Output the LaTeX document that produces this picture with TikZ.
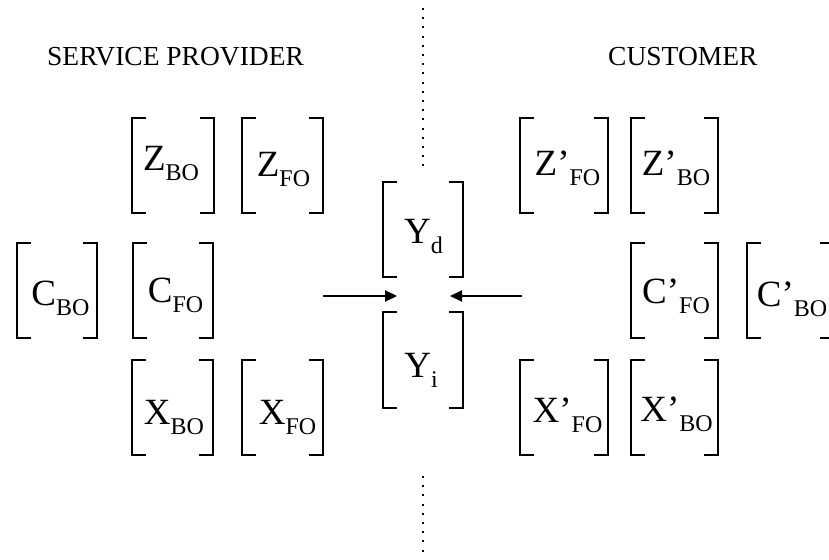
\documentclass[tikz,border=0pt]{standalone}
\usepackage{fontspec}
\setmainfont{Liberation Serif}
\usetikzlibrary{arrows.meta}
\newcommand\lab[2]{#1\raisebox{-10pt}{\fontsize{24}{24}\selectfont #2}}
\tikzset{
  frame/.style={inner sep=0pt, outer sep=0pt, draw=none},
  brk/.style={line width=2.2pt, line cap=butt, line join=miter},
  brkshadow/.style={line width=2.6pt, draw=black!25, opacity=.45, shift={(1.5,2.5)}},
  lbl/.style={anchor=base, inner sep=0pt, font=\fontsize{37}{37}\selectfont},
  ttl/.style={anchor=base west, inner sep=0pt, font=\fontsize{27.5}{27.5}\selectfont},
  arr/.style={line width=2pt, -{Triangle[length=12pt,width=11pt]}},
  arrshadow/.style={line width=2.4pt, draw=black!25, opacity=.45, shift={(1.5,2.5)}, -{Triangle[length=12pt,width=11pt]}},
}
\newcommand\brkpair[1]{%
  \draw[brkshadow] ([xshift=14pt]#1.north west) -| (#1.south west) -- ++(14,0);
  \draw[brkshadow] ([xshift=-14pt]#1.north east) -| (#1.south east) -- ++(-14,0);
  \draw[brk] ([xshift=14pt]#1.north west) -| (#1.south west) -- ++(14,0);
  \draw[brk] ([xshift=-14pt]#1.north east) -| (#1.south east) -- ++(-14,0);
}
\begin{document}
\begin{tikzpicture}[x=1pt,y=-1pt]
\useasboundingbox (0,0) rectangle (829,559);
% titles
\node[ttl] (sp) at (47,66) {SERVICE PROVIDER};
\node[ttl] (cu) at (608,66) {CUSTOMER};
% dotted divider
\foreach \k in {0,...,17} { \fill (422,{8+\k*9.2}) rectangle ++(2,2); }
\foreach \k in {0,...,8} { \fill (422,{476+\k*9.2}) rectangle ++(2,2); }
% bracket frames
\node[frame, minimum width=82pt, minimum height=95pt] (zbo) at (173,165.5) {};
\node[frame, minimum width=81pt, minimum height=95pt] (zfo) at (282.5,165.5) {};
\node[frame, minimum width=80pt, minimum height=95pt] (cbo) at (57,290.5) {};
\node[frame, minimum width=80pt, minimum height=95pt] (cfo) at (173,290.5) {};
\node[frame, minimum width=81pt, minimum height=95pt] (xbo) at (172.5,407.5) {};
\node[frame, minimum width=81pt, minimum height=95pt] (xfo) at (282.5,407.5) {};
\node[frame, minimum width=80pt, minimum height=95pt] (yd) at (423,229.5) {};
\node[frame, minimum width=80pt, minimum height=96pt] (yi) at (423,360) {};
\node[frame, minimum width=88pt, minimum height=95pt] (zpfo) at (564,165.5) {};
\node[frame, minimum width=87pt, minimum height=95pt] (zpbo) at (674.5,165.5) {};
\node[frame, minimum width=87pt, minimum height=95pt] (cpfo) at (674.5,290.5) {};
\node[frame, minimum width=87pt, minimum height=95pt] (cpbo) at (790.5,290.5) {};
\node[frame, minimum width=88pt, minimum height=95pt] (xpfo) at (564,407.5) {};
\node[frame, minimum width=87pt, minimum height=95pt] (xpbo) at (674.5,407.5) {};
\foreach \n in {zbo,zfo,cbo,cfo,xbo,xfo,yd,yi,zpfo,zpbo,cpfo,cpbo,xpfo,xpbo} { \brkpair{\n} }
% labels
\node[lbl] (l-zbo) at (171,170) {\lab{Z}{BO}};
\node[lbl] (l-zfo) at (283.5,176) {\lab{Z}{FO}};
\node[lbl] (l-cbo) at (60.5,305) {\lab{C}{BO}};
\node[lbl] (l-cfo) at (175.5,302) {\lab{C}{FO}};
\node[lbl] (l-xbo) at (174,424) {\lab{X}{BO}};
\node[lbl] (l-xfo) at (287.5,424) {\lab{X}{FO}};
\node[lbl] (l-yd) at (423.5,243) {\lab{Y}{d}};
\node[lbl] (l-yi) at (421,377) {\lab{Y}{i}};
\node[lbl] (l-zpfo) at (567.5,175) {\lab{Z’}{FO}};
\node[lbl] (l-zpbo) at (676,175) {\lab{Z’}{BO}};
\node[lbl] (l-cpfo) at (676,303) {\lab{C’}{FO}};
\node[lbl] (l-cpbo) at (792,306) {\lab{C’}{BO}};
\node[lbl] (l-xpfo) at (567.5,422) {\lab{X’}{FO}};
\node[lbl] (l-xpbo) at (676.5,421) {\lab{X’}{BO}};
% arrows
\coordinate (la) at (323,296);
\coordinate (lt) at (397,296);
\coordinate (ra) at (522,296);
\coordinate (rt) at (450,296);
\draw[arrshadow] (la) -- (lt);
\draw[arrshadow] (ra) -- (rt);
\draw[arr] (la) -- (lt);
\draw[arr] (ra) -- (rt);
\end{tikzpicture}
\end{document}
